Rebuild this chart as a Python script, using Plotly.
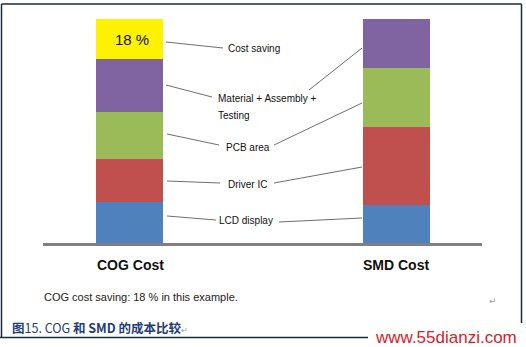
import plotly.graph_objects as go

# ---- data ----
categories = ["COG Cost", "SMD Cost"]
segment_names = ["LCD display", "Driver IC", "PCB area", "Material + Assembly + Testing", "Cost saving"]
lcd_display = [18.5, 17]
driver_ic = [19, 35]
pcb_area = [21, 26]
material_assembly_testing = [23.5, 22]
cost_saving = [18, 0]
saving_label = "18 %"
colors = ["#4f81bd", "#c0504d", "#9bbb59", "#8064a2", "#fff200"]

# ---- layout geometry (pixels) ----
W, H = 526, 347
ML, MR, MT, MB = 43, 44, 19, 104
PW, PH = W - ML - MR, H - MT - MB


def px(x):
    return (x - ML) / PW


def py(y):
    return (H - MB - y) / PH


fig = go.Figure()
series = [lcd_display, driver_ic, pcb_area, material_assembly_testing, cost_saving]
for name, vals, col in zip(segment_names, series, colors):
    fig.add_trace(go.Bar(x=categories, y=vals, name=name, marker=dict(color=col, line=dict(width=0)),
                         width=0.25, hoverinfo="skip"))

shapes = []
line_col = "#6e6e6e"
leader_lines = [
    ((166, 42), (223, 48)),
    ((166, 85), (212, 97)),
    ((309, 90), (362, 48)),
    ((167, 134), (219, 145)),
    ((274, 145), (362, 103)),
    ((167, 181), (220, 183)),
    ((274, 183), (362, 167)),
    ((167, 216), (216, 220)),
    ((279, 222), (362, 218)),
]
for (x0, y0), (x1, y1) in leader_lines:
    shapes.append(dict(type="line", xref="paper", yref="paper", x0=px(x0), y0=py(y0), x1=px(x1), y1=py(y1),
                       line=dict(color=line_col, width=1)))

frame_col = "#1c2b36"
frame = [((1.5, 4), (521.5, 4)), ((1.5, 4), (1.5, 337.5)), ((521.5, 4), (521.5, 323)), ((0, 337.5), (368, 337.5))]
for (x0, y0), (x1, y1) in frame:
    shapes.append(dict(type="line", xref="paper", yref="paper", x0=px(x0), y0=py(y0), x1=px(x1), y1=py(y1),
                       line=dict(color=frame_col, width=1.5)))

font = "Liberation Sans, Arial, sans-serif"
ann = []
base = dict(xref="paper", yref="paper", showarrow=False, xanchor="center", yanchor="middle")
lab = dict(base, font=dict(family=font, size=10, color="#111111"))
ann.append(dict(lab, text="Cost saving", x=px(254), y=py(48)))
ann.append(dict(lab, text="Material + Assembly +", x=px(216), y=py(99), xanchor="left"))
ann.append(dict(lab, text="Testing", x=px(216), y=py(115), xanchor="left"))
ann.append(dict(lab, text="PCB area", x=px(247.5), y=py(147)))
ann.append(dict(lab, text="Driver IC", x=px(247), y=py(184)))
ann.append(dict(lab, text="LCD display", x=px(246), y=py(220)))

cog_base = lcd_display[0] + driver_ic[0] + pcb_area[0] + material_assembly_testing[0]
ann.append(dict(x=categories[0], y=cog_base + cost_saving[0] / 2, text=saving_label, showarrow=False,
                xanchor="center", yanchor="middle",
                xshift=3, font=dict(family=font, size=15, color="#111111")))

for c, cx in zip(categories, [130, 396]):
    ann.append(dict(base, x=px(cx), y=py(265), text="<b>" + c + "</b>",
                    font=dict(family=font, size=14, color="#111111")))

ann.append(dict(base, x=px(42), y=py(297), xanchor="left",
                text="COG cost saving: 18 % in this example.",
                font=dict(family=font, size=11, color="#222222")))
ann.append(dict(base, x=px(493), y=py(301), text="↵",
                font=dict(family="DejaVu Sans", size=9, color="#9a9a9a")))
ann.append(dict(base, x=px(10), y=py(327), xanchor="left",
                text="<b>图</b>15. COG <b>和</b> <b>SMD</b> <b>的成本比较</b><span style='color:#9a9a9a;font-size:8px'>↵</span>",
                font=dict(family="Noto Sans CJK SC, sans-serif", size=12.5, color="#1f3d7a")))
ann.append(dict(base, x=px(519), y=py(337), xanchor="right",
                text="www.55dianzi.com", bgcolor="white",
                font=dict(family=font, size=17, color="#d9222a")))

fig.update_layout(
    barmode="stack",
    width=W, height=H,
    margin=dict(l=ML, r=MR, t=MT, b=MB, pad=0),
    paper_bgcolor="white", plot_bgcolor="white",
    showlegend=False,
    bargap=0,
    xaxis=dict(range=[-0.323, 1.318], showticklabels=False, ticks="", showgrid=False, zeroline=False,
               showline=True, linecolor="#808080", linewidth=3, fixedrange=True),
    yaxis=dict(range=[0, 100], visible=False, fixedrange=True),
    shapes=shapes,
    annotations=ann,
)

fig.write_html("out.html", config={"displayModeBar": False})
